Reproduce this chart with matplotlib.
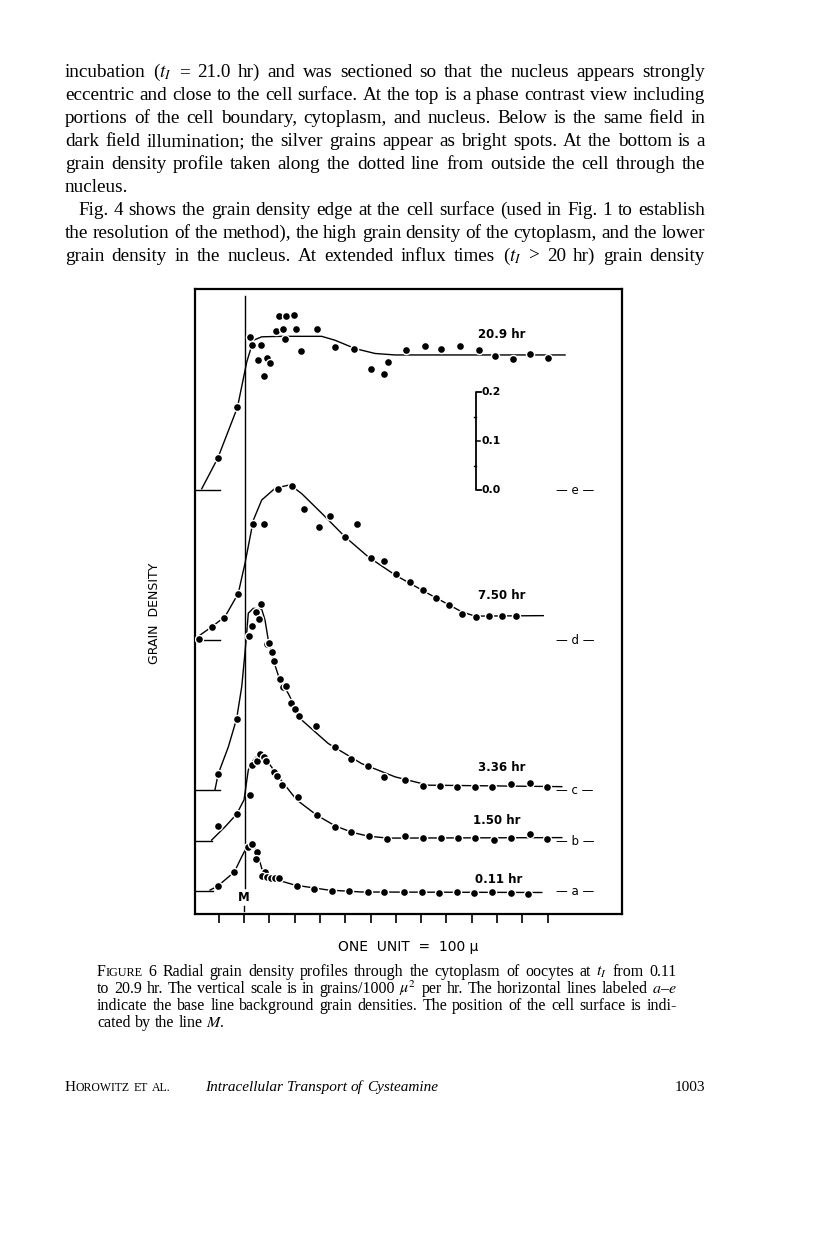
import matplotlib
matplotlib.use('Agg')
import matplotlib.pyplot as plt
from matplotlib import rcParams

rcParams.update({'mathtext.fontset': 'stix'})

# profile labels, background baselines (stack offsets in grains/1000 u^2 per hr)
times = ['0.11 hr', '1.50 hr', '3.36 hr', '7.50 hr', '20.9 hr']
base_names = ['a', 'b', 'c', 'd', 'e']
base_offset = [0.0, 0.102, 0.206, 0.512, 0.818]
base_left_end = [-1.22, -1.26, -0.95, -0.95, -0.95]

# measured points: distance from M (units of 100 u), density above background
dist_a = [-1.04, -0.38, 0.17, 0.30, 0.50, 0.47, 0.83, 0.72, 0.90, 1.06, 1.23, 1.40, 2.11,
          2.77, 3.47, 4.16, 4.91, 5.55, 6.32, 7.02, 7.72, 8.41, 9.09, 9.79, 10.54, 11.21]
dens_a = [0.010, 0.039, 0.089, 0.096, 0.079, 0.065, 0.039, 0.031, 0.028, 0.026, 0.026, 0.026, 0.011,
          0.004, 0.001, 0.000, -0.002, -0.001, -0.001, -0.003, -0.005, -0.001, -0.004, -0.003, -0.005, -0.006]
dist_b = [-1.04, -0.29, 0.24, 0.30, 0.51, 0.63, 0.79, 0.88, 1.17, 1.30, 1.51, 2.15, 2.87,
          3.60, 4.23, 4.95, 5.66, 6.35, 7.09, 7.77, 8.45, 9.13, 9.88, 10.55, 11.30, 11.98]
dens_b = [0.031, 0.055, 0.094, 0.155, 0.164, 0.178, 0.171, 0.163, 0.140, 0.133, 0.114, 0.090, 0.053,
          0.029, 0.018, 0.011, 0.005, 0.010, 0.007, 0.007, 0.007, 0.006, 0.002, 0.007, 0.014, 0.005]
dist_c = [-1.02, -0.29, 0.21, 0.33, 0.47, 0.66, 0.60, 0.90, 0.99, 1.09, 1.19, 1.42, 1.55, 1.65,
          1.87, 2.00, 2.16, 2.85, 3.58, 4.24, 4.91, 5.55, 6.35, 7.08, 7.75, 8.42, 9.14, 9.79,
          10.55, 11.29, 11.98]
dens_c = [0.033, 0.146, 0.314, 0.335, 0.363, 0.380, 0.350, 0.298, 0.301, 0.281, 0.263, 0.226, 0.210, 0.213,
          0.178, 0.165, 0.151, 0.131, 0.087, 0.064, 0.050, 0.027, 0.020, 0.009, 0.009, 0.006, 0.006, 0.006,
          0.013, 0.014, 0.006]
dist_d = [-1.78, -1.28, -0.78, -0.23, 0.34, 0.80, 1.33, 1.89, 2.37, 2.96, 3.40, 3.99, 4.48,
          5.01, 5.53, 6.01, 6.56, 7.09, 7.58, 8.10, 8.60, 9.16, 9.70, 10.21, 10.74]
dens_d = [0.003, 0.027, 0.046, 0.095, 0.238, 0.238, 0.308, 0.314, 0.267, 0.230, 0.253, 0.210, 0.238,
          0.168, 0.161, 0.135, 0.118, 0.103, 0.086, 0.072, 0.054, 0.048, 0.049, 0.050, 0.050]
dist_e = [-1.04, -0.26, 0.24, 0.33, 0.66, 0.55, 0.92, 1.04, 0.79, 1.25, 1.53, 1.62, 1.38, 1.67,
          1.96, 2.04, 2.26, 2.90, 3.61, 4.35, 5.03, 5.55, 5.68, 6.39, 7.14, 7.79, 8.54, 9.28,
          9.91, 10.62, 11.29, 12.02]
dens_e = [0.065, 0.169, 0.313, 0.296, 0.297, 0.265, 0.269, 0.259, 0.233, 0.325, 0.328, 0.308, 0.356, 0.356,
          0.357, 0.328, 0.284, 0.329, 0.292, 0.289, 0.248, 0.237, 0.262, 0.286, 0.295, 0.288, 0.294, 0.286,
          0.273, 0.267, 0.277, 0.269]

# hand drawn fit curves
fit_a_x = [-1.34, -1.04, -0.38, -0.09, 0.11, 0.30, 0.50, 0.70, 1.09, 2.02, 3.33, 4.65, 11.77]
fit_a_y = [0.002, 0.010, 0.039, 0.070, 0.090, 0.099, 0.084, 0.046, 0.026, 0.012, 0.002, -0.002, -0.003]
fit_b_x = [-1.28, -0.75, -0.29, 0.00, 0.17, 0.37, 0.63, 0.90, 1.36, 2.08, 2.87, 3.60, 4.26, 4.90, 5.69, 12.56]
fit_b_y = [0.002, 0.029, 0.055, 0.084, 0.145, 0.165, 0.179, 0.165, 0.131, 0.084, 0.053, 0.031, 0.018,
           0.010, 0.006, 0.007]
fit_c_x = [-1.15, -1.02, -0.62, -0.29, -0.09, 0.01, 0.10, 0.17, 0.37, 0.70, 0.83, 0.96, 1.16, 1.42,
           1.75, 2.28, 3.33, 4.65, 5.97, 7.28, 12.56]
fit_c_y = [0.0, 0.033, 0.088, 0.146, 0.211, 0.265, 0.316, 0.361, 0.371, 0.369, 0.347, 0.306, 0.265, 0.224,
           0.197, 0.143, 0.095, 0.054, 0.027, 0.010, 0.007]
fit_d_x = [-1.94, -1.28, -0.75, -0.23, 0.04, 0.37, 0.70, 1.23, 1.82, 2.28, 3.07, 3.99, 4.91, 5.97,
           7.28, 8.60, 9.13, 11.83]
fit_d_y = [0.003, 0.027, 0.048, 0.095, 0.157, 0.245, 0.286, 0.310, 0.317, 0.299, 0.259, 0.211, 0.170,
           0.133, 0.095, 0.058, 0.049, 0.050]
fit_e_x = [-1.67, -1.04, -0.26, 0.11, 0.37, 0.70, 1.49, 3.07, 3.60, 4.39, 5.18, 5.97, 12.69]
fit_e_y = [0.003, 0.065, 0.169, 0.262, 0.306, 0.313, 0.314, 0.314, 0.306, 0.289, 0.279, 0.276, 0.276]

dists = [dist_a, dist_b, dist_c, dist_d, dist_e]
denss = [dens_a, dens_b, dens_c, dens_d, dens_e]
fits_x = [fit_a_x, fit_b_x, fit_c_x, fit_d_x, fit_e_x]
fits_y = [fit_a_y, fit_b_y, fit_c_y, fit_d_y, fit_e_y]

scale_ticks = [0.0, 0.1, 0.2]
unit_ticks = list(range(-1, 13))

body = [
    "incubation ($t_I$ = 21.0 hr) and was sectioned so that the nucleus appears strongly",
    "eccentric and close to the cell surface. At the top is a phase contrast view including",
    "portions of the cell boundary, cytoplasm, and nucleus. Below is the same field in",
    "dark field illumination; the silver grains appear as bright spots. At the bottom is a",
    "grain density profile taken along the dotted line from outside the cell through the",
    "nucleus.",
    "Fig. 4 shows the grain density edge at the cell surface (used in Fig. 1 to establish",
    "the resolution of the method), the high grain density of the cytoplasm, and the lower",
    "grain density in the nucleus. At extended influx times ($t_I$ > 20 hr) grain density",
]
caption = [
    "6  Radial grain density profiles through the cytoplasm of oocytes at $t_I$ from 0.11",
    "to 20.9 hr. The vertical scale is in grains/1000 $\\mu^2$ per hr. The horizontal lines labeled $a$\u2013$e$",
    "indicate the base line background grain densities. The position of the cell surface is indi-",
    "cated by the line $M$.",
]

W, H = 816, 1238
fig = plt.figure(figsize=(W / 100, H / 100), dpi=100)
renderer = fig.canvas.get_renderer()


def set_line(y, x0, x1, words, size, style='normal', justify=True):
    """place words on a baseline (pixels from top), optionally justified"""
    groups = []
    for w in words:
        parts = w if isinstance(w, list) else [(w, size)]
        row = []
        for s, sz in parts:
            t = fig.text(0, 1 - y / H, s, fontsize=sz, family='Liberation Serif',
                         style=style, va='baseline')
            row.append((t, t.get_window_extent(renderer).width))
        groups.append(row)
    widths = [sum(wd for _, wd in row) for row in groups]
    if justify and len(groups) > 1:
        gap = (x1 - x0 - sum(widths)) / (len(groups) - 1)
    else:
        gap = 0.26 * size * 100 / 72
    x = x0
    for row, wsum in zip(groups, widths):
        for t, wd in row:
            t.set_x(x / W)
            x += wd
        x += gap


# page text above the figure
for i, line in enumerate(body):
    x0 = 78 if i == 6 else 65
    set_line(77 + 23 * i, x0, 705, line.split(' '), 13.8, justify=(i != 5))

# the chart
ax = fig.add_axes([195 / W, 1 - 914 / H, 427 / W, 625 / H])
for sp in ax.spines.values():
    sp.set_linewidth(1.6)

for name, off, lend, t, dx, dy, fx_, fy_ in zip(base_names, base_offset, base_left_end, times,
                                                 dists, denss, fits_x, fits_y):
    ax.plot([-1.94, lend], [off, off], color='black', lw=1.0)
    ax.plot(fx_, [v + off for v in fy_], color='black', lw=1.0, zorder=2)
    ax.plot(dx, [v + off for v in dy], 'o', color='black', ms=5.8, mec='white', mew=1.0, zorder=3)
    ax.text(13.08, off, '\u2014 ' + name + ' \u2014', ha='center', va='center',
            fontsize=8.5, family='DejaVu Sans')

label_pos = [(9.13, 0.024), (9.05, 0.143), (9.25, 0.253), (9.25, 0.604), (9.25, 1.135)]
for t, (lx, ly) in zip(times, label_pos):
    ax.text(lx, ly, t, ha='left', va='center', fontsize=8.5, fontweight='bold', family='DejaVu Sans')

# vertical scale bar on baseline e
sx = 9.17
e0 = base_offset[4]
ax.plot([sx + 0.2, sx, sx, sx + 0.2], [e0, e0, e0 + 0.2, e0 + 0.2], color='black', lw=1.3)
ax.plot([sx, sx + 0.15], [e0 + 0.1, e0 + 0.1], color='black', lw=1.1)
for m in [0.05, 0.15]:
    ax.plot([sx - 0.08, sx], [e0 + m, e0 + m], color='black', lw=1.0)
for v in scale_ticks:
    ax.text(sx + 0.22, e0 + v, '%.1f' % v, ha='left', va='center', fontsize=7.8,
            fontweight='bold', family='DejaVu Sans')

# cell surface line M
ax.plot([0.05, 0.05], [1.214, 0.006], color='black', lw=1.0, zorder=1)
ax.plot([0.0, 0.0], [-0.031, -0.040], color='black', lw=1.0)
ax.text(0.0, -0.014, 'M', ha='center', va='center', fontsize=8.5, fontweight='bold', family='DejaVu Sans')

ax.set_xlim(-1.937, 14.94)
ax.set_ylim(-0.0469, 1.2286)
ax.set_xticks(unit_ticks)
ax.set_yticks([])
ax.tick_params(axis='x', direction='out', length=6.5, width=1.2, labelbottom=False)

fig.text(155 / W, 1 - 613 / H, 'GRAIN  DENSITY', rotation=90, ha='center', va='center',
         fontsize=9, family='DejaVu Sans')
fig.text(408 / W, 1 - 947 / H, 'ONE  UNIT  =  100 \u00b5', ha='center', va='center',
         fontsize=10, family='DejaVu Sans')

# caption
for i, line in enumerate(caption):
    words = line.split(' ')
    if i == 0:
        words = [[('F', 11.5), ('IGURE', 8.8)]] + words
    set_line(976 + 17 * i, 97, 677, [w for w in words if w != ''], 11.5, justify=(i < 3))

# running footer
set_line(1091, 65, 200, [[('H', 11), ('OROWITZ', 8.5)], [('ET', 8.5)], [('AL.', 8.5)]], 11, justify=False)
set_line(1091, 205, 600, 'Intracellular Transport of Cysteamine'.split(' '), 11, style='italic', justify=False)
fig.text(705 / W, 1 - 1091 / H, '1003', ha='right', va='baseline', fontsize=11, family='Liberation Serif')

fig.savefig('out.png', dpi=100)
